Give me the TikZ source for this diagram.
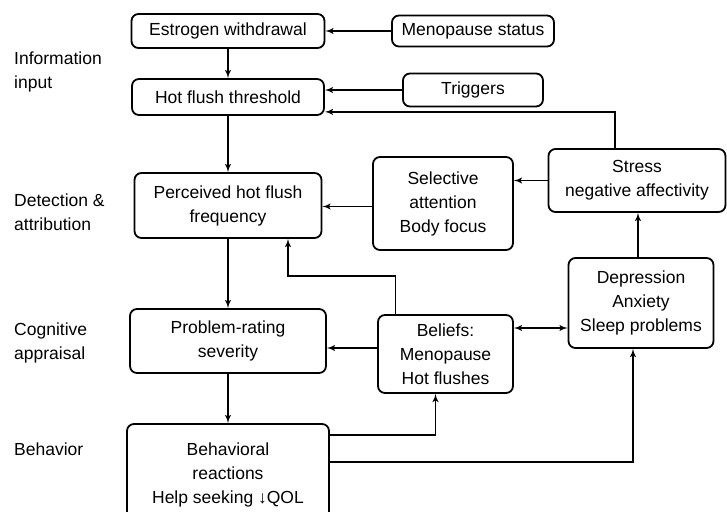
\documentclass[tikz,border=0pt]{standalone}
\usepackage{fontspec}
\setmainfont{Liberation Sans}
\usetikzlibrary{shapes,arrows,positioning}
\tikzstyle{block} = [draw, rectangle, rounded corners=7pt, align=center, inner sep=1pt, line width=1.8pt]
\tikzstyle{stage} = [align=left, anchor=west, inner sep=0pt]
\tikzstyle{link} = [draw, line width=1.8pt]

\begin{document}
\begin{tikzpicture}[auto, node distance=1cm, >=latex', x=1pt, y=1pt, font=\fontsize{17.5}{24}\selectfont]
            \useasboundingbox (0,0) rectangle (727,-511);
            % main column
            \node [block, minimum width=193pt, minimum height=34pt] (est) at (228,-31) {Estrogen withdrawal};
            \node [block, below of=est, node distance=66pt, minimum width=192pt, minimum height=36pt] (thr) {Hot flush threshold};
            \node [block, below of=thr, node distance=108.5pt, minimum width=187pt, minimum height=65pt] (perc) {Perceived hot flush\\frequency};
            \node [block, below of=perc, node distance=135.5pt, minimum width=196pt, minimum height=64pt] (prob) {Problem-rating\\severity};
            \node [block, below of=prob, node distance=134pt, minimum width=202pt, minimum height=102pt] (beh) {Behavioral\\reactions\\Help seeking ↓QOL};
            % right side
            \node [block, right of=est, node distance=245pt, minimum width=162pt, minimum height=31pt] (meno) {Menopause status};
            \node [block, below of=meno, node distance=59pt, minimum width=140pt, minimum height=33pt] (trig) {Triggers};
            \node [block, right of=perc, node distance=215pt, yshift=2pt, minimum width=140pt, minimum height=93pt] (sel) {Selective\\attention\\Body focus};
            \node [block, right of=sel, node distance=194pt, yshift=23pt, minimum width=177pt, minimum height=63pt] (str) {Stress\\negative affectivity};
            \node [block, below of=str, node distance=122.5pt, xshift=4pt, minimum width=145pt, minimum height=90pt] (dep) {Depression\\Anxiety\\Sleep problems};
            \node [block, right of=prob, node distance=217.5pt, yshift=-13pt, minimum width=135pt, minimum height=78pt] (bel) {Beliefs:\\Menopause\\Hot flushes};
            % stages
            \node [stage] (info) at (14,-72) {Information\\input};
            \node [stage] (detect) at (14,-212) {Detection \&\\attribution};
            \node [stage] (cogn) at (14,-343) {Cognitive\\appraisal};
            \node [stage] (behav) at (14,-449) {Behavior};

            \draw [link,->] (meno) -- (est);
            \draw [link,->] (est) -- (thr);
            \draw [link,->] (thr) -- (perc);
            \draw [link,->] (perc) -- (prob);
            \draw [link,->] (prob) -- (beh);
            \draw [link,->] (trig.west) -- (trig.west -| thr.east);
            \draw [link,->] ([xshift=-22pt]str.north) |- ([yshift=4pt]thr.south east);
            \draw [link,->] (str.west) -- (str.west -| sel.east);
            \draw [link,->] ([yshift=-3pt]sel.west) -- ([yshift=-3pt]sel.west -| perc.east);
            \draw [link,->] ([xshift=-3pt]dep.north) -- ([xshift=-3pt]dep.north |- str.south);
            \draw [link,->] ([xshift=-50pt]bel.north) -- ++(0,38) -| ([xshift=60pt]perc.south);
            \draw [link,<->] ([yshift=26pt]bel.east) -- ([yshift=26pt]bel.east -| dep.west);
            \draw [link,->] ([yshift=6pt]bel.west) -- ([yshift=6pt]bel.west -| prob.east);
            \draw [link,->] ([yshift=40pt]beh.east) -| ([xshift=-10pt]bel.south);
            \draw [link,->] ([yshift=13pt]beh.east) -| ([xshift=-8pt]dep.south);
        \end{tikzpicture}
\end{document}
